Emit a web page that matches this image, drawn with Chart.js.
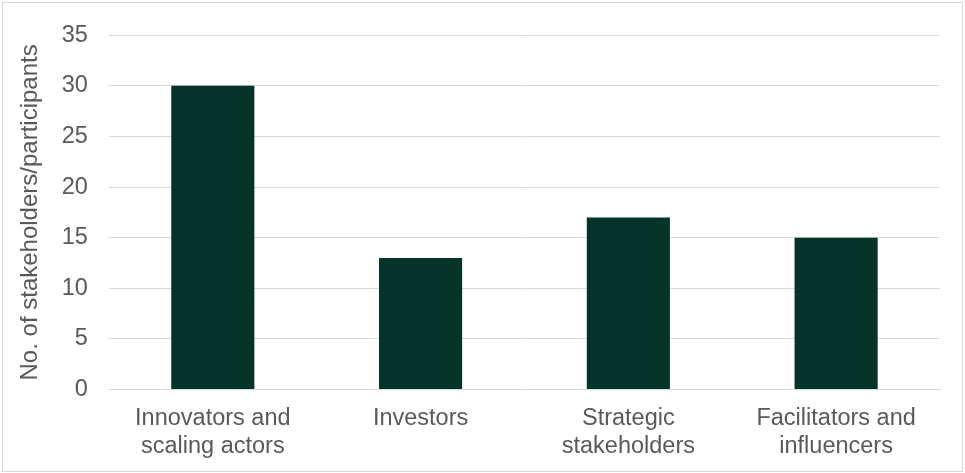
<!DOCTYPE html>
<html>
<head>
<meta charset="utf-8">
<script src="https://cdn.jsdelivr.net/npm/chart.js@4"></script>
<style>
  html, body { margin: 0; padding: 0; background: #fff; }
  #wrap { position: absolute; left: 2px; top: 2px; width: 959px; height: 468px; border: 1px solid #d9d9d9; box-sizing: content-box; }
  canvas { display: block; }
</style>
</head>
<body>
<div id="wrap"><canvas id="c" width="959" height="468"></canvas></div>
<script>
const categories = [["Innovators and", "scaling actors"], "Investors", ["Strategic", "stakeholders"], ["Facilitators and", "influencers"]];
const values = [30, 13, 17, 15];
const yTitle = "No. of stakeholders/participants";

Chart.defaults.font.family = "'Liberation Sans', Arial, sans-serif";
Chart.defaults.color = "#595959";

new Chart(document.getElementById('c'), {
  type: 'bar',
  data: {
    labels: categories,
    datasets: [{
      data: values,
      backgroundColor: '#043429',
      borderWidth: 0,
      categoryPercentage: 0.4,
      barPercentage: 1.0
    }]
  },
  options: {
    responsive: false,
    animation: false,
    devicePixelRatio: 1,
    layout: { padding: { left: 1, right: 22, top: 0, bottom: 3 } },
    plugins: { legend: { display: false }, tooltip: { enabled: false } },
    scales: {
      x: {
        grid: { display: false },
        border: { display: true, color: '#d9d9d9', width: 1 },
        ticks: { font: { size: 23.5 }, color: '#595959', padding: 7, maxRotation: 0, autoSkip: false }
      },
      y: {
        min: 0, max: 35,
        ticks: { stepSize: 5, font: { size: 23.5, lineHeight: 0.95 }, color: '#595959', padding: 21 },
        grid: { color: '#d9d9d9', drawTicks: false, lineWidth: 1 },
        border: { display: false },
        title: { display: true, text: yTitle, font: { size: 24 }, color: '#595959', padding: { top: 12, bottom: -4 } }
      }
    }
  }
});
</script>
</body>
</html>
